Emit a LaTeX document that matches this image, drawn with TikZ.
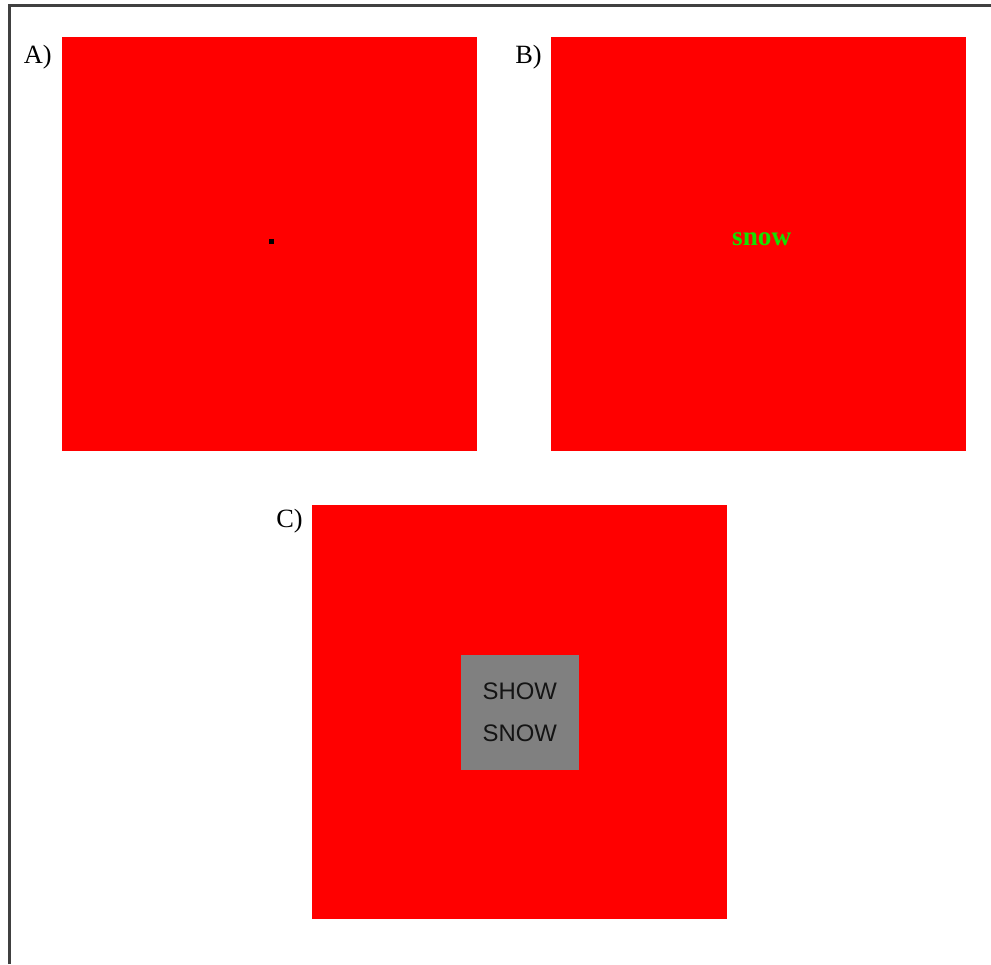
\documentclass[tikz,border=0pt]{standalone}
\usepackage{fontspec}
\setmainfont{Liberation Serif}
\newfontfamily\cardfont{Liberation Sans}
\usetikzlibrary{positioning}
\definecolor{snowgreen}{RGB}{20,225,0}

\begin{document}
\begin{tikzpicture}[
  x=0.02cm,y=-0.02cm,
  panel/.style={fill=red,minimum width=8.3cm,minimum height=8.28cm,inner sep=0pt,anchor=north west},
  tag/.style={anchor=base east,inner sep=0pt,font=\fontsize{15}{17}\selectfont},
  frame/.style={draw=black!75,line width=1.2pt},
  card/.style={fill=gray,minimum width=2.36cm,minimum height=2.3cm,inner sep=0pt,align=center,text=black!92,font=\cardfont\fontsize{13.6}{23.8}\selectfont}
]
\useasboundingbox (0,0) rectangle (991,964);
\draw[frame] (9.5,964) -- (9.5,5.5) -- (991,5.5);
% the three panels
\node[panel] (pa) at (62,37) {};
\node[panel] (pb) at (551,37) {};
\node[panel] (pc) at (312,505) {};
\node[tag] (la) at (52,63) {A)};
\node[tag] (lb) at (542,63) {B)};
\node[tag] (lc) at (303,527) {C)};
% panel contents
\node[fill=black,minimum size=0.1cm,inner sep=0pt] (dot) at (271.5,241.5) {};
\node[anchor=base,inner sep=0pt,text=snowgreen,font=\fontsize{15.5}{18}\selectfont\bfseries] (word) at (761.7,245) {snow};
\node[card] (box) at (pc.center) {SHOW\\SNOW};
\end{tikzpicture}
\end{document}
